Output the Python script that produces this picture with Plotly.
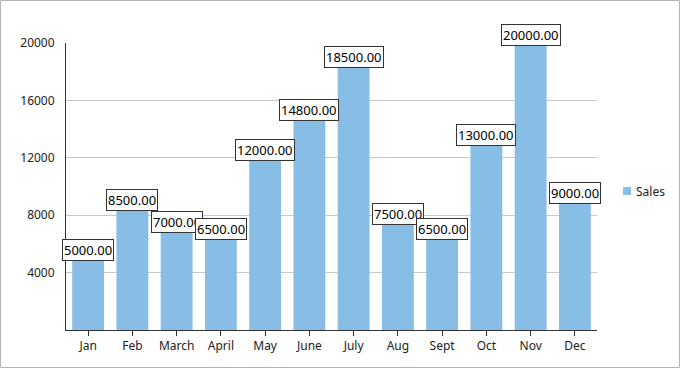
import plotly.graph_objects as go

months = ["Jan", "Feb", "March", "April", "May", "June", "July", "Aug", "Sept", "Oct", "Nov", "Dec"]
sales = [5000, 8500, 7000, 6500, 12000, 14800, 18500, 7500, 6500, 13000, 20000, 9000]
y_ticks = [4000, 8000, 12000, 16000, 20000]
series_name = "Sales"

BAR = "#88bde6"
FONT = "Noto Sans"

fig = go.Figure()
fig.add_trace(go.Bar(x=months, y=sales, name=series_name,
                     marker=dict(color=BAR, line=dict(width=0)), showlegend=False))

for m, v in zip(months, sales):
    fig.add_annotation(x=m, y=v, text=f"{v:.2f}", showarrow=False, yanchor="bottom", yshift=-3,
                       font=dict(family=FONT, size=13, color="#000"),
                       bgcolor="white", bordercolor="#333", borderwidth=1, borderpad=1)

L, R, T, B = 66, 83, 43, 38
W, H = 680, 368
pw, ph = W - L - R, H - T - B


def px_x(p):
    return (p - L) / pw


def px_y(p):
    return (H - B - p) / ph


# outer chart border
fig.add_shape(type="rect", xref="paper", yref="paper",
              x0=px_x(0.5), x1=px_x(W - 0.5), y0=px_y(H - 0.5), y1=px_y(0.5),
              line=dict(color="#b4b4b4", width=1), layer="below")

# legend (drawn manually for exact placement)
fig.add_shape(type="rect", xref="paper", yref="paper",
              x0=px_x(623), x1=px_x(631), y0=px_y(195), y1=px_y(187),
              line=dict(width=0), fillcolor=BAR)
fig.add_annotation(xref="paper", yref="paper", x=px_x(634), y=px_y(191), text=series_name,
                   showarrow=False, xanchor="left", yanchor="middle",
                   font=dict(family=FONT, size=12, color="#222"))

fig.update_layout(
    width=W, height=H, margin=dict(l=L, r=R, t=T, b=B, autoexpand=False),
    paper_bgcolor="white", plot_bgcolor="white",
    bargap=0.28,
    font=dict(family=FONT, size=12, color="#222"),
    showlegend=False,
    xaxis=dict(range=[-0.5, len(months) - 0.5], showline=True, linecolor="#333", linewidth=1,
               ticks="outside", ticklen=5,
               tickcolor="#333", showgrid=False, automargin=False),
    yaxis=dict(range=[0, 20000], tickvals=y_ticks, ticktext=[str(t) for t in y_ticks],
               showgrid=True, gridcolor="#c8c8c8",
               showline=True, linecolor="#333", linewidth=1, ticks="", zeroline=False,
               ticklabelstandoff=8, automargin=False),
)

fig.write_html("out.html", config={"displayModeBar": False},
               post_script="document.body.style.margin='0';")
